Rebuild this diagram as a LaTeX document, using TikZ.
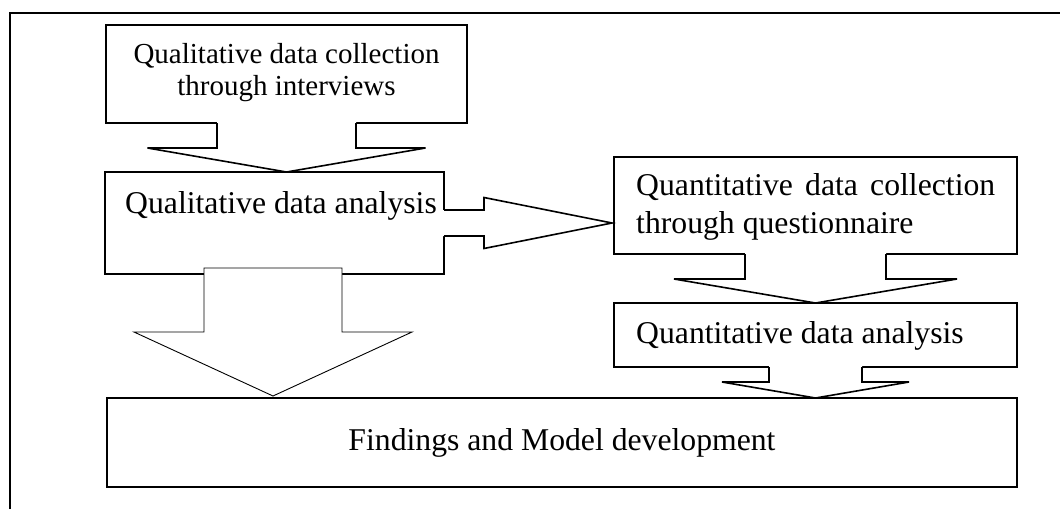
\documentclass[tikz,border=0pt]{standalone}
\usepackage{fontspec}
\setmainfont{Liberation Serif}
\usetikzlibrary{calc}

% Downward block arrow: [style] {from} {to} {shaft half width} {head half width} {head length}
% The shaft top stays open so that it cuts through the edge of the box it leaves.
\newcommand\blockdown[6][]{%
  \path[fill=white] let \p1=(#2), \p2=(#3) in
    (\x1-#4pt,\y1+1.5pt) -- (\x1-#4pt,\y2+#6pt) -- (\x1-#5pt,\y2+#6pt) -- (\x1,\y2)
    -- (\x1+#5pt,\y2+#6pt) -- (\x1+#4pt,\y2+#6pt) -- (\x1+#4pt,\y1+1.5pt) -- cycle;
  \draw[blockarrow,#1] let \p1=(#2), \p2=(#3) in
    (\x1-#4pt,\y1) -- (\x1-#4pt,\y2+#6pt) -- (\x1-#5pt,\y2+#6pt) -- (\x1,\y2)
    -- (\x1+#5pt,\y2+#6pt) -- (\x1+#4pt,\y2+#6pt) -- (\x1+#4pt,\y1);}

\tikzset{
  frameline/.style={line width=2.4pt, draw=black},
  box/.style={draw=black, line width=1.6pt, fill=white, rectangle, inner sep=0pt,
    outer sep=0pt, anchor=north west},
  blockarrow/.style={draw=black, line width=1.6pt, line join=miter},
  bigtext/.style={font=\fontsize{31.7}{38}\selectfont, inner sep=0pt},
  smalltext/.style={font=\fontsize{29}{32}\selectfont, inner sep=0pt},
}

\begin{document}
\begin{tikzpicture}[x=1pt, y=-1pt]
  \useasboundingbox (0,0) rectangle (1060,509);

  % surrounding frame, open to the right and below
  \draw[frameline] (10,509) -- (10,13) -- (1060,13);

  % process boxes
  \node[box, minimum width=361pt, minimum height=98pt]  (b1) at (106,25)  {};
  \node[box, minimum width=339pt, minimum height=102pt] (b2) at (105,172) {};
  \node[box, minimum width=403pt, minimum height=97pt]  (b3) at (614,157) {};
  \node[box, minimum width=403pt, minimum height=64pt]  (b4) at (614,303) {};
  \node[box, minimum width=910pt, minimum height=89pt]  (b5) at (107,398) {};

  % box texts
  \node[smalltext, anchor=base] (t1) at (286.5,63)
    {\begin{tabular}[t]{@{}c@{}}Qualitative data collection\\through interviews\end{tabular}};
  \node[bigtext, anchor=base west] (t2) at (125,213) {Qualitative data analysis};
  \node[bigtext, anchor=base west] (t3) at (636,195)
    {\begin{tabular}[t]{@{}l@{}}\makebox[359pt][s]{Quantitative data collection}\\through questionnaire\end{tabular}};
  \node[bigtext, anchor=base west] (t4) at (636,343) {Quantitative data analysis};
  \node[bigtext, anchor=base] (t5) at (562,450) {Findings and Model development};

  % block arrows between boxes
  \blockdown{b1.south}{b2.north}{69.5}{139}{24}
  \blockdown{b3.south}{b4.north}{70.5}{141.5}{24}
  \blockdown{b4.south}{b5.north}{46.5}{93.5}{16}

  % right-pointing block arrow from the qualitative analysis to the questionnaire
  \path[fill=white] let \p1=(b2.east), \p2=(b3.west |- b2.east) in
    (\x1-1.5pt,\y1+13pt) -- (\x2-130pt,\y1+13pt) -- (\x2-130pt,\y1+25.5pt) -- (\x2-2pt,\y1)
    -- (\x2-130pt,\y1-25.5pt) -- (\x2-130pt,\y1-13pt) -- (\x1-1.5pt,\y1-13pt) -- cycle;
  \draw[blockarrow] let \p1=(b2.east), \p2=(b3.west |- b2.east) in
    (\x1,\y1+13pt) -- (\x2-130pt,\y1+13pt) -- (\x2-130pt,\y1+25.5pt) -- (\x2-2pt,\y1)
    -- (\x2-130pt,\y1-25.5pt) -- (\x2-130pt,\y1-13pt) -- (\x1,\y1-13pt);

  % wide block arrow from the qualitative analysis down to the findings
  \coordinate (b2s) at ($(b2.south)+(-1.5,-6)$);
  \draw[blockarrow, line width=0.9pt, fill=white] let \p1=(b2s), \p2=(b5.north) in
    (\x1-69pt,\y1) -- (\x1-69pt,\y2+66pt) -- (\x1-139pt,\y2+66pt) -- (\x1,\y2+2pt)
    -- (\x1+139pt,\y2+66pt) -- (\x1+69pt,\y2+66pt) -- (\x1+69pt,\y1) -- cycle;
\end{tikzpicture}
\end{document}
